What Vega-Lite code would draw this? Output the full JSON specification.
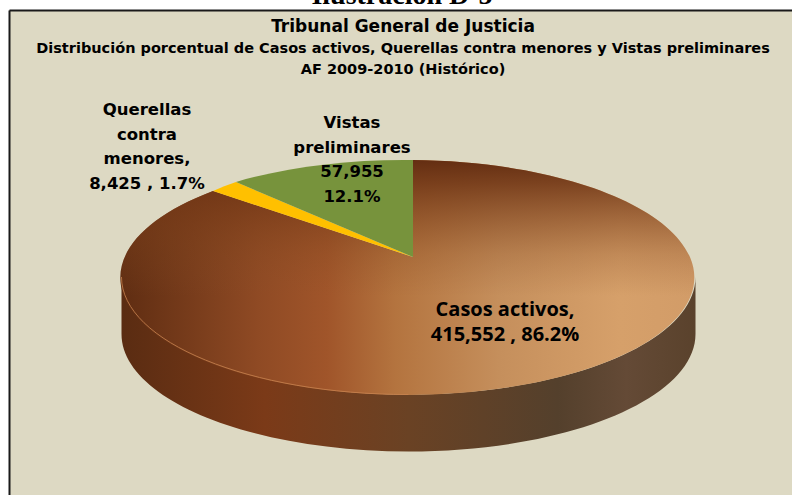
{"$schema":"https://vega.github.io/schema/vega-lite/v6.json","width":783,"height":485,"autosize":"none","padding":{"left":9,"top":10,"right":0,"bottom":0},"background":"#ffffff","config":{"view":{"stroke":null,"fill":"#ddd9c3"}},"data":{"values":[{"category":"Casos activos","value":415552,"pct":86.2,"label":"Casos activos,\n415,552 , 86.2%"},{"category":"Querellas contra menores","value":8425,"pct":1.7,"label":"Querellas\ncontra\nmenores,\n8,425 , 1.7%"},{"category":"Vistas preliminares","value":57955,"pct":12.1,"label":"Vistas\npreliminares\n57,955\n12.1%"}]},"encoding":{"x":{"datum":0,"type":"quantitative","scale":{"domain":[-404,379],"nice":false,"zero":false},"axis":{"orient":"top","domain":true,"domainColor":"#1a1a1a","domainWidth":2,"ticks":false,"labels":false,"grid":false,"title":null}},"y":{"datum":0,"type":"quantitative","scale":{"domain":[238,-247],"nice":false,"zero":false},"axis":{"orient":"left","domain":true,"domainColor":"#1a1a1a","domainWidth":2,"ticks":false,"labels":false,"grid":false,"title":null}}},"layer":[{"transform":[{"filter":"datum.category==='Casos activos'"}],"mark":{"type":"point","filled":true,"opacity":1,"size":4,"strokeWidth":0,"shape":"M-291.5,20 A287,117.5 0 0 0 282.5,20 L282.5,77 A287,117.5 0 0 1 -291.5,77 Z","fill":{"gradient":"linear","x1":0,"y1":0,"x2":1,"y2":0,"stops":[{"offset":0,"color":"#5a2c12"},{"offset":0.25,"color":"#7b3a18"},{"offset":0.5,"color":"#6a4224"},{"offset":0.76,"color":"#54402c"},{"offset":0.88,"color":"#644a36"},{"offset":1,"color":"#5a422c"}]}}},{"transform":[{"filter":"datum.category==='Casos activos'"}],"mark":{"type":"point","filled":true,"opacity":1,"size":4,"strokeWidth":0,"shape":"M0,0 L0,-97 A287,117.5 0 1 1 -200,-66 Z","fill":{"gradient":"linear","x1":0,"y1":0,"x2":1,"y2":0,"stops":[{"offset":0,"color":"#5f2d12"},{"offset":0.24,"color":"#8f4a24"},{"offset":0.36,"color":"#a0552a"},{"offset":0.48,"color":"#b4743f"},{"offset":0.66,"color":"#c58f5c"},{"offset":0.87,"color":"#d6a06a"},{"offset":1,"color":"#d29c68"}]}}},{"transform":[{"filter":"datum.category==='Casos activos'"}],"mark":{"type":"point","filled":true,"opacity":1,"size":4,"strokeWidth":0,"shape":"M0,0 L0,-97 A287,117.5 0 1 1 -200,-66 Z","fill":{"gradient":"linear","x1":0,"y1":0,"x2":0,"y2":1,"stops":[{"offset":0,"color":"rgba(100,46,18,1)"},{"offset":0.1,"color":"rgba(110,52,20,0.85)"},{"offset":0.25,"color":"rgba(120,60,24,0.55)"},{"offset":0.4,"color":"rgba(130,70,30,0.25)"},{"offset":0.58,"color":"rgba(140,80,40,0)"},{"offset":1,"color":"rgba(140,80,40,0)"}]}}},{"transform":[{"filter":"datum.category==='Casos activos'"}],"mark":{"type":"point","filled":false,"opacity":0.8,"size":4,"strokeWidth":1,"stroke":"#c98450","shape":"M-291.5,20 A287,117.5 0 0 0 -4.5,137.5"}},{"transform":[{"filter":"datum.category==='Querellas contra menores'"}],"mark":{"type":"point","filled":true,"opacity":1,"size":4,"strokeWidth":0,"fill":"#ffc000","shape":"M0,0 L-200,-66 A287,117.5 0 0 1 -177,-75 Z"}},{"transform":[{"filter":"datum.category==='Vistas preliminares'"}],"mark":{"type":"point","filled":true,"opacity":1,"size":4,"strokeWidth":0,"fill":"#77933c","shape":"M0,0 L-177,-75 A287,117.5 0 0 1 0,-97 Z"}},{"transform":[{"filter":"datum.category==='Casos activos'"}],"mark":{"type":"text","font":"Open Sans","fontWeight":"bold","fontSize":20,"lineBreak":"\n","lineHeight":25,"align":"center","baseline":"middle","dx":92,"dy":53,"color":"#000000"},"encoding":{"text":{"field":"label"}}},{"transform":[{"filter":"datum.category==='Querellas contra menores'"}],"mark":{"type":"text","font":"DejaVu Sans","fontWeight":"bold","fontSize":16.5,"lineBreak":"\n","lineHeight":24.5,"align":"center","baseline":"middle","dx":-266,"dy":-147,"color":"#000000"},"encoding":{"text":{"field":"label"}}},{"transform":[{"filter":"datum.category==='Vistas preliminares'"}],"mark":{"type":"text","font":"DejaVu Sans","fontWeight":"bold","fontSize":16.5,"lineBreak":"\n","lineHeight":24.5,"align":"center","baseline":"middle","dx":-61,"dy":-134,"color":"#000000"},"encoding":{"text":{"field":"label"}}},{"data":{"values":[{"line":"Ilustración D-5"}]},"mark":{"type":"text","font":"Liberation Serif","fontWeight":"bold","fontSize":28,"align":"center","baseline":"alphabetic","dx":-11,"dy":-253,"color":"#000000"},"encoding":{"text":{"field":"line"}}},{"data":{"values":[{"line":"Tribunal General de Justicia"}]},"mark":{"type":"text","font":"DejaVu Sans","fontWeight":"bold","fontSize":17,"align":"center","baseline":"middle","dx":-10,"dy":-230,"color":"#000000"},"encoding":{"text":{"field":"line"}}},{"data":{"values":[{"line":"Distribución porcentual de Casos activos, Querellas contra menores y Vistas preliminares\nAF 2009-2010 (Histórico)"}]},"mark":{"type":"text","font":"DejaVu Sans","fontWeight":"bold","fontSize":14.5,"lineBreak":"\n","lineHeight":21,"align":"center","baseline":"middle","dx":-10,"dy":-208,"color":"#000000"},"encoding":{"text":{"field":"line"}}}]}
